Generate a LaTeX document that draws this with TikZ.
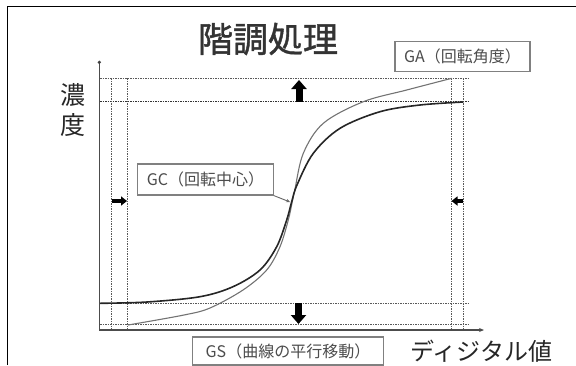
\documentclass[tikz,border=0pt]{standalone}
\usepackage{fontspec}
\setmainfont{Noto Sans CJK JP}
\newfontfamily\mytitlefont[FakeBold=1.2]{Noto Sans CJK JP}
\usetikzlibrary{arrows.meta}
\begin{document}
\begin{tikzpicture}[x=1pt,y=-1pt,
  guide/.style={draw=black!65, line width=0.7pt, dash pattern=on 1.6pt off 0.9pt},
  guidedark/.style={draw=black!80, line width=0.9pt, dash pattern=on 1.6pt off 0.9pt},
  labelbox/.style={draw=black!50, line width=1.2pt, fill=white, text=black!70, inner sep=0pt, font=\fontsize{16}{18}\selectfont},
  bigarrow/.style={line width=7pt, -{Triangle[length=9pt, width=15pt]}},
  smallarrow/.style={line width=4pt, -{Triangle[length=6pt, width=9pt]}},
  axis/.style={draw=black!70, line width=1.4pt}]
\useasboundingbox (0,0) rectangle (576,365);
% frame
\draw[line width=1.3pt] (7.3,365) -- (7.3,6.7) -- (576,6.7);
% title
\node[font=\mytitlefont\fontsize{35}{38}\selectfont, text=black!80] (title) at (268,39) {階調処理};
% guide lines
\coordinate (hA1) at (100,78.3);  \coordinate (hA2) at (468,78.3);
\coordinate (hB1) at (100,101.7); \coordinate (hB2) at (468,101.7);
\coordinate (hC1) at (100,303.3); \coordinate (hC2) at (468,303.3);
\coordinate (hD1) at (100,324.5); \coordinate (hD2) at (468,324.5);
\coordinate (vA1) at (111,78.3);   \coordinate (vA2) at (111,330);
\coordinate (vB1) at (127.5,78.3); \coordinate (vB2) at (127.5,330);
\coordinate (vC1) at (451.5,78.3); \coordinate (vC2) at (451.5,330);
\coordinate (vD1) at (463.3,78.3); \coordinate (vD2) at (463.3,330);
\draw[guide] (hA1) -- (hA2);
\draw[guidedark] (hB1) -- (hB2);
\draw[guide] (hC1) -- (hC2);
\draw[guide] (hD1) -- (hD2);
\draw[guide] (vA1) -- (vA2);
\draw[guide] (vB1) -- (vB2);
\draw[guide] (vC1) -- (vC2);
\draw[guide] (vD1) -- (vD2);
% axes
\coordinate (origin) at (99.3,330);
\coordinate (ytop) at (99.3,62.3);
\coordinate (xend) at (484,330);
\draw[axis, -{Stealth[length=5pt,width=4pt]}] (origin) -- (xend);
\draw[axis] (origin) -- (ytop);
\fill[black!75] (ytop) circle (1.8pt);
% curves
\draw[black!55, line width=1.1pt] plot[smooth, tension=0.55] coordinates {
 (128,325) (184,315) (210,308) (243,290) (266.7,270) (280,246.7) (288.3,220)
 (292,203) (294.8,190) (303.3,153.3) (323.3,123.3) (363.3,101.7) (406.7,90) (451.7,78.3)};
\draw[black!85, line width=1.6pt] plot[smooth, tension=0.55] coordinates {
 (100,303.3) (147,302) (200,296.7) (233,286.7) (260,270) (276.7,246.7) (286.7,220)
 (291.7,201.7) (297,185) (313.3,153.3) (340,128.3) (380,111.7) (420,105) (463.3,102)};
% block arrows
\coordinate (upA) at (299,102); \coordinate (upB) at (299,80);
\coordinate (dnA) at (298.5,303.3); \coordinate (dnB) at (298.5,324);
\coordinate (rtA) at (111.5,201); \coordinate (rtB) at (127,201);
\coordinate (ltA) at (463,201); \coordinate (ltB) at (451.5,201);
\draw[bigarrow] (upA) -- (upB);
\draw[bigarrow] (dnA) -- (dnB);
\draw[smallarrow] (rtA) -- (rtB);
\draw[smallarrow] (ltA) -- (ltB);
% axis labels
\node[font=\fontsize{25}{30}\selectfont, text=black!85, align=center, inner sep=0pt] (ylab) at (73,110) {濃\\度};
\node[font=\fontsize{24}{26}\selectfont, text=black!85, inner sep=0pt] (xlab) at (481.5,351) {ディジタル値};
% label boxes
\node[labelbox, minimum width=135pt, minimum height=30pt] (ga) at (462.5,56.7) {GA（回転角度）};
\node[labelbox, minimum width=135.6pt, minimum height=31pt] (gc) at (205.5,179.5) {GC（回転中心）};
\node[labelbox, minimum width=190.6pt, minimum height=28pt] (gs) at (288,351) {GS（曲線の平行移動）};
\coordinate (gctip) at (290,202);
\draw[black!60, line width=0.9pt, -{Stealth[length=4pt,width=3.5pt]}] (gc.south east) -- (gctip);
\end{tikzpicture}
\end{document}
